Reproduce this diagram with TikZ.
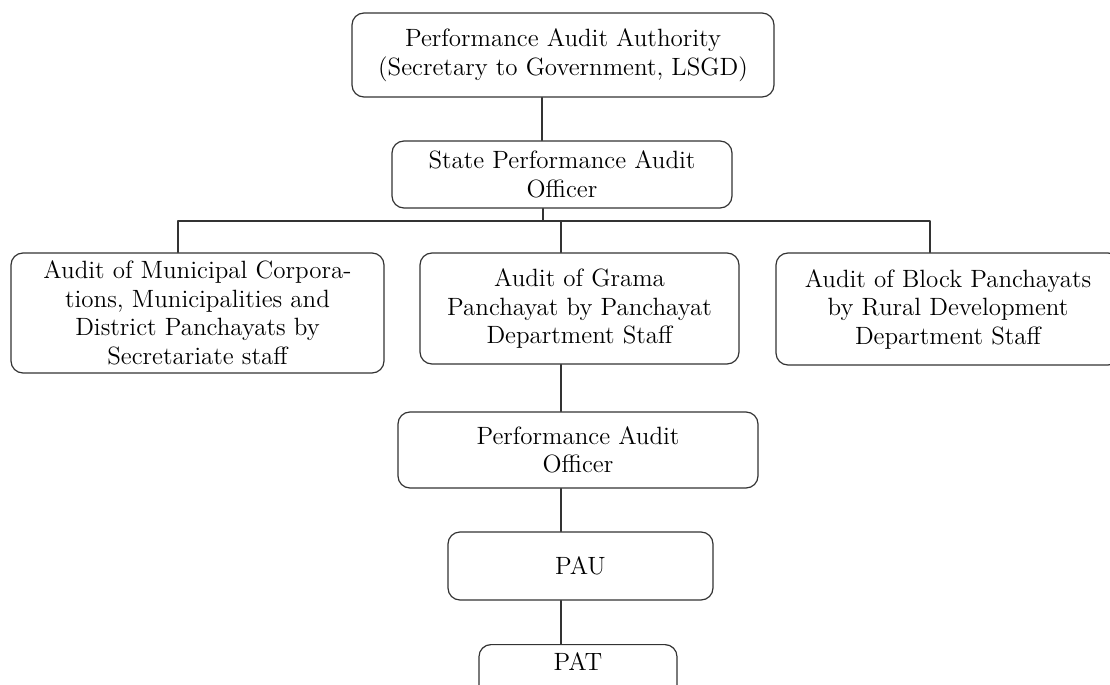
\documentclass[tikz,border=0pt]{standalone}
\begin{document}
\begin{tikzpicture}[x=0.5pt,y=-0.5pt,line join=round,line cap=round,
	every node/.style={font=\fontsize{12.5}{14.25}\selectfont},
	box/.style={draw=black!80,line width=0.6pt,rounded corners=6pt,align=center,inner sep=0pt},
	boxsize/.style 2 args={minimum width=#1*0.5pt,minimum height=#2*0.5pt},
	link/.style={draw=black!80,line width=0.6pt}]
	\useasboundingbox (0,0) rectangle (1110,685);
	\clip (0,0) rectangle (1110,685);
	\path (542,0) coordinate (trunkA)
		(561,0) coordinate (trunkB)
		(178,221) coordinate (busL)
		(543,221) coordinate (busA)
		(561,221) coordinate (busM)
		(930,221) coordinate (busR);
	\node[box,boxsize={422}{84}] (paa) at (563,55) {Performance Audit Authority\\(Secretary to Government, LSGD)};
	\node[box,boxsize={340}{67}] (spao) at (562,174.5) {State Performance Audit\\Officer};
	\node[box,boxsize={373}{120}] (corp) at (197.5,313) {Audit of Municipal Corpora-\\tions, Municipalities and\\District Panchayats by\\Secretariate staff};
	\node[box,boxsize={319}{111}] (grama) at (579.5,308.5) {Audit of Grama\\Panchayat by Panchayat\\Department Staff};
	\node[box,boxsize={344}{112}] (block) at (948,309) {Audit of Block Panchayats\\by Rural Development\\Department Staff};
	\node[box,boxsize={360}{76}] (pao) at (578,450) {Performance Audit\\Officer};
	\node[box,boxsize={265}{68}] (pau) at (580.5,566) {PAU};
	\node[box,minimum width=99pt,anchor=north,inner ysep=4.5pt,text height=8.5pt,text depth=10.5pt] (pat) at (578,644) {PAT};
	% connectors
	\draw[link] (paa.south -| trunkA) -- (spao.north -| trunkA);
	\draw[link] (spao.south -| busA) -- (busA);
	\draw[link] (corp.north -| busL) -- (busL) -- (busR) -- (block.north -| busR);
	\draw[link] (busM) -- (grama.north -| busM);
	\draw[link] (grama.south -| trunkB) -- (pao.north -| trunkB);
	\draw[link] (pao.south -| trunkB) -- (pau.north -| trunkB);
	\draw[link] (pau.south -| trunkB) -- (pat.north -| trunkB);
\end{tikzpicture}
\end{document}
